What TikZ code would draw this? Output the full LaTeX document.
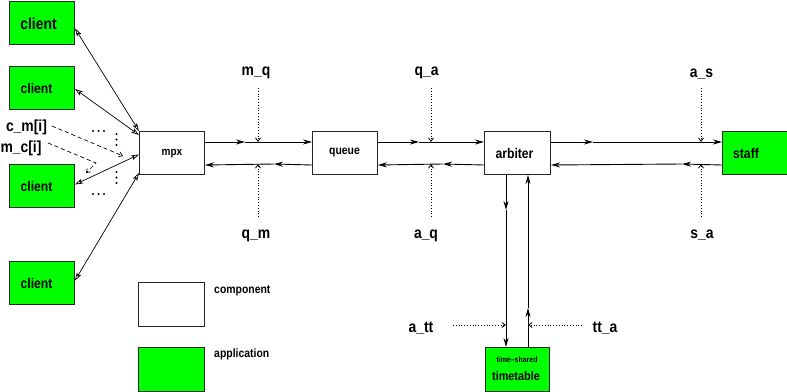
\documentclass[tikz,border=0pt]{standalone}
\usepackage{fontspec}
\newfontfamily\lf[FakeStretch=0.87]{Liberation Sans}
\usetikzlibrary{arrows.meta,calc}
\definecolor{appgreen}{RGB}{0,255,0}
\tikzset{
 box/.style={draw=black!85, line width=1pt, minimum width=65pt, minimum height=43pt, inner sep=0pt, anchor=north west},
 comp/.style={box, fill=white},
 app/.style={box, fill=appgreen},
 fs/.style={font=\lf\bfseries\fontsize{#1}{#1}\selectfont},
 lbl/.style={fs=16, inner sep=0pt},
 flow/.style={line width=0.9pt, -{Stealth[length=9pt,width=5pt,inset=3pt]}},
 sig/.style={dotted, line width=0.8pt, -{Straight Barb[length=3.5pt,width=5pt]}},
 cl/.style={line width=0.7pt, {Stealth[open,length=8pt,width=5pt,inset=2pt]}-{Stealth[open,length=8pt,width=5pt,inset=2pt]}},
 refl/.style={dash pattern=on 4pt off 3pt, line width=0.7pt, -{Straight Barb[length=3.5pt,width=5pt]}},
 dot/.style={fill=black, circle, inner sep=0pt, minimum size=2.2pt}
}
\begin{document}
\begin{tikzpicture}[x=1pt,y=-1pt]
\useasboundingbox (0,0) rectangle (787,391);
% client boxes
\node[app] (c1) at (9,1) {};
\node[app] (c2) at (9,66) {};
\node[app] (c3) at (9,164) {};
\node[app] (c4) at (9,261) {};
\node[fs=16, inner sep=0pt] (t1) at (38.5,24) {client};
\node[fs=14, inner sep=0pt] (t2) at (36.5,88) {client};
\node[fs=14, inner sep=0pt] (t3) at (36.5,186) {client};
\node[fs=14, inner sep=0pt] (t4) at (36.5,283) {client};
% components
\node[comp] (mpx) at (139,131) {};
\node[fs=11.5, inner sep=0pt] (tmpx) at (172,154) {mpx};
\node[comp] (queue) at (312,131) {};
\node[fs=12, inner sep=0pt] (tq) at (344.5,153) {queue};
\node[comp, minimum width=66pt] (arb) at (484,131) {};
\node[fs=14, inner sep=0pt] (ta) at (514.5,153) {arbiter};
\node[app, minimum width=64.5pt] (staff) at (722,131) {};
\node[fs=14, inner sep=0pt] (ts) at (746,153) {staff};
\node[app, minimum width=64pt, minimum height=43.5pt] (tt) at (485,347) {};
\node[fs=8, inner sep=0pt] (tt1) at (517,360) {time–shared};
\node[fs=12.5, inner sep=0pt] (tt2) at (516,376) {timetable};
% legend
\node[comp, minimum width=66pt, minimum height=44pt] (lc) at (138,282) {};
\node[app, minimum width=66pt, minimum height=44pt] (la) at (138,347) {};
\node[fs=12, inner sep=0pt, anchor=base west] (lct) at (214,293) {component};
\node[fs=12, inner sep=0pt, anchor=base west] (lat) at (214,357) {application};
% horizontal flows
\coordinate (j1) at (245,142);
\coordinate (j2) at (274,164);
\coordinate (j3) at (419,142);
\coordinate (j4) at (443,164);
\coordinate (j5) at (593,142);
\coordinate (j6) at (682,164);
\draw[flow] ($(mpx.north east)+(0,11)$) -- (j1);
\draw[flow] (j1) -- ($(queue.north west)+(0,11)$);
\draw[flow] ($(queue.south west)+(0,-10)$) -- (j2);
\draw[flow] (j2) -- ($(mpx.south east)+(0,-10)$);
\draw[flow] ($(queue.north east)+(0,11)$) -- (j3);
\draw[flow] (j3) -- ($(arb.north west)+(0,11)$);
\draw[flow] ($(arb.south west)+(0,-10)$) -- (j4);
\draw[flow] (j4) -- ($(queue.south east)+(0,-10)$);
\draw[flow] ($(arb.north east)+(0,11)$) -- (j5);
\draw[flow] (j5) -- ($(staff.north west)+(0,11)$);
\draw[flow] ($(staff.south west)+(0,-10)$) -- (j6);
\draw[flow] (j6) -- ($(arb.south east)+(0,-10)$);
% vertical flows
\coordinate (j7) at (506,210);
\coordinate (j8) at (528,308);
\draw[flow] (arb.south west -| j7) -- (j7);
\draw[flow] (j7) -- (tt.north west -| j7);
\draw[flow] (tt.north west -| j8) -- (j8);
\draw[flow] (j8) -- (arb.south west -| j8);
% signal labels
\node[lbl, anchor=base] (mq) at (256,75) {m\_q};
\node[lbl, anchor=base] (qa) at (426.5,75) {q\_a};
\node[lbl, anchor=base] (as) at (701.5,77) {a\_s};
\node[lbl, anchor=base] (qm) at (256,238) {q\_m};
\node[lbl, anchor=base] (aq) at (426,238) {a\_q};
\node[lbl, anchor=base] (sa) at (702,238) {s\_a};
\node[lbl, anchor=base] (att) at (421,332) {a\_tt};
\node[lbl, anchor=base] (tta) at (605,332) {tt\_a};
\coordinate (mq1) at (258,88);  \coordinate (mq2) at (258,142);
\coordinate (qa1) at (431,88);  \coordinate (qa2) at (431,142);
\coordinate (as1) at (701,88);  \coordinate (as2) at (701,142);
\coordinate (qm1) at (258,217); \coordinate (qm2) at (258,164);
\coordinate (aq1) at (431,217); \coordinate (aq2) at (431,164);
\coordinate (sa1) at (701,217); \coordinate (sa2) at (701,164);
\coordinate (at1) at (453,325); \coordinate (at2) at (506,325);
\coordinate (ta1) at (582,325); \coordinate (ta2) at (528,325);
\draw[sig] (mq1) -- (mq2);
\draw[sig] (qa1) -- (qa2);
\draw[sig] (as1) -- (as2);
\draw[sig] (qm1) -- (qm2);
\draw[sig] (aq1) -- (aq2);
\draw[sig] (sa1) -- (sa2);
\draw[sig] (at1) -- (at2);
\draw[sig] (ta1) -- (ta2);
% client connectors
\draw[cl] ($(c1.east)+(0,5.5)$) -- (mpx.north west);
\draw[cl] ($(c2.east)+(0,1)$) -- ($(mpx.north west)+(0,4)$);
\draw[cl] ($(c3.east)+(0,-1.5)$) -- ($(mpx.west)+(0,1.5)$);
\draw[cl] ($(c4.east)+(0,-2.5)$) -- ($(mpx.south west)+(0,-2)$);
% c_m / m_c references
\node[lbl, anchor=base] (cm) at (26.5,131) {c\_m[i]};
\node[lbl, anchor=base] (mc) at (21,152) {m\_c[i]};
\coordinate (cm1) at (52,126); \coordinate (cm2) at (123,156);
\coordinate (mc1) at (48,143); \coordinate (mcb) at (96,163); \coordinate (mc2) at (86,173);
\draw[refl] (cm1) -- (cm2);
\draw[refl] (mc1) -- (mcb) -- (mc2);
% ellipsis dots
\foreach \x in {93,98.5,104} {
  \node[dot] at (\x,131) {};
  \node[dot] at (\x,194) {};
}
\foreach \y in {134,139.5,145,172,177.5,183} {
  \node[dot] at (116.5,\y) {};
}
\end{tikzpicture}
\end{document}
